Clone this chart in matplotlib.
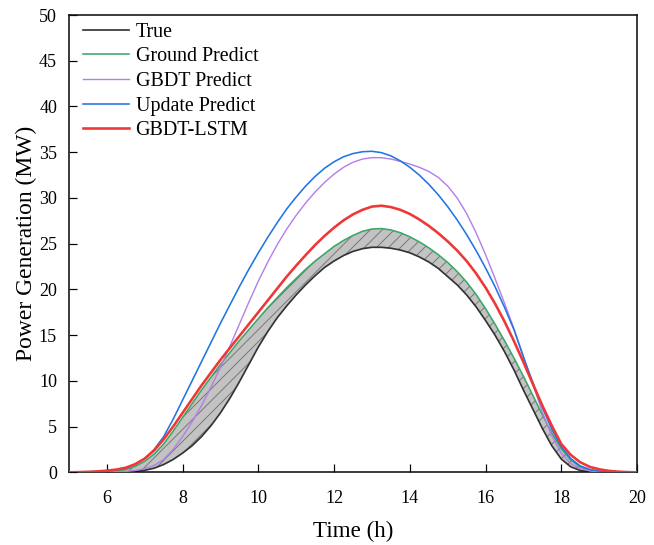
import numpy as np
import matplotlib
matplotlib.use("Agg")
import matplotlib.pyplot as plt

# ---------------- data ----------------
hours = [5.00, 5.25, 5.50, 5.75, 6.00, 6.25, 6.50, 6.75, 7.00, 7.25, 7.50, 7.75,
         8.00, 8.25, 8.50, 8.75, 9.00, 9.25, 9.50, 9.75, 10.00, 10.25, 10.50, 10.75,
         11.00, 11.25, 11.50, 11.75, 12.00, 12.25, 12.50, 12.75, 13.00, 13.25, 13.50, 13.75,
         14.00, 14.25, 14.50, 14.75, 15.00, 15.25, 15.50, 15.75, 16.00, 16.25, 16.50, 16.75,
         17.00, 17.25, 17.50, 17.75, 18.00, 18.25, 18.50, 18.75, 19.00, 19.25, 19.50, 19.75, 20.00]

true_vals = [0, 0, 0, 0, 0, 0, 0.02, 0.08, 0.22, 0.45, 0.85, 1.4,
             2.1, 2.9, 3.9, 5.1, 6.5, 8.1, 9.9, 11.8, 13.7, 15.4, 16.9, 18.2,
             19.4, 20.5, 21.5, 22.4, 23.1, 23.7, 24.15, 24.45, 24.6, 24.6, 24.5, 24.3,
             24.0, 23.55, 23.0, 22.3, 21.4, 20.5, 19.4, 18.1, 16.6, 15.0, 13.2, 11.2,
             9.0, 6.9, 4.8, 2.9, 1.45, 0.6, 0.2, 0.05, 0, 0, 0, 0, 0]

ground_vals = [0, 0, 0, 0.02, 0.05, 0.12, 0.3, 0.65, 1.2, 2.0, 3.1, 4.5,
               6.0, 7.5, 9.0, 10.4, 11.8, 13.1, 14.4, 15.6, 16.8, 18.0, 19.1, 20.2,
               21.2, 22.2, 23.1, 23.9, 24.7, 25.35, 25.9, 26.35, 26.6, 26.65, 26.5, 26.2,
               25.75, 25.2, 24.55, 23.8, 22.95, 21.95, 20.8, 19.45, 17.9, 16.2, 14.4, 12.5,
               10.5, 8.4, 6.3, 4.3, 2.6, 1.35, 0.6, 0.22, 0.07, 0.02, 0, 0, 0]

gbdt_vals = [0, 0, 0, 0, 0.02, 0.04, 0.09, 0.2, 0.4, 0.75, 1.4, 2.5,
             3.9, 5.5, 7.3, 9.3, 11.5, 13.8, 16.2, 18.6, 20.9, 23.0, 24.9, 26.6,
             28.1, 29.45, 30.65, 31.7, 32.6, 33.35, 33.9, 34.25, 34.4, 34.4, 34.25, 34.0,
             33.7, 33.35, 32.9, 32.25, 31.3, 30.0, 28.3, 26.2, 23.8, 21.2, 18.5, 15.7,
             12.7, 9.6, 6.6, 4.0, 2.1, 0.95, 0.4, 0.16, 0.06, 0.02, 0, 0, 0]

update_vals = [0, 0.01, 0.03, 0.07, 0.13, 0.25, 0.45, 0.85, 1.5, 2.5, 3.9, 5.8,
               7.9, 10.0, 12.1, 14.2, 16.3, 18.3, 20.3, 22.2, 24.0, 25.7, 27.3, 28.8,
               30.1, 31.3, 32.35, 33.25, 33.95, 34.5, 34.85, 35.05, 35.1, 34.95, 34.6, 34.05,
               33.35, 32.5, 31.5, 30.35, 29.05, 27.6, 26.0, 24.25, 22.35, 20.3, 18.05, 15.6,
               12.6, 9.8, 7.1, 4.7, 2.8, 1.5, 0.7, 0.32, 0.13, 0.05, 0.02, 0, 0]

lstm_vals = [0, 0.02, 0.05, 0.1, 0.18, 0.3, 0.5, 0.9, 1.5, 2.4, 3.6, 5.0,
             6.5, 8.0, 9.5, 10.9, 12.3, 13.6, 14.9, 16.2, 17.5, 18.8, 20.1, 21.4,
             22.6, 23.75, 24.85, 25.85, 26.75, 27.55, 28.2, 28.7, 29.05, 29.15, 29.0, 28.7,
             28.25, 27.65, 26.95, 26.15, 25.25, 24.25, 23.1, 21.75, 20.2, 18.45, 16.5, 14.35,
             12.05, 9.65, 7.3, 5.1, 3.1, 1.9, 1.1, 0.6, 0.33, 0.16, 0.07, 0.02, 0]

labels = ["True", "Ground Predict", "GBDT Predict", "Update Predict", "GBDT-LSTM"]
xticks = [6, 8, 10, 12, 14, 16, 18, 20]
yticks = [0, 5, 10, 15, 20, 25, 30, 35, 40, 45, 50]

# ---------------- style ----------------
plt.rcParams['font.family'] = ['Liberation Serif', 'DejaVu Serif']
plt.rcParams['hatch.linewidth'] = 1.0
plt.rcParams['hatch.color'] = '#7a7a7a'

DPI = 72
fig = plt.figure(figsize=(654 / DPI, 545 / DPI), dpi=DPI)
ax = fig.add_axes([69 / 654, (545 - 472.3) / 545, 568 / 654, 457.3 / 545])

x = np.array(hours)
ax.fill_between(x, true_vals, ground_vals, facecolor='#c3c3c3',
                edgecolor='#7a7a7a', hatch='//', linewidth=0, zorder=1)

ax.plot(x, true_vals, color='#333333', lw=1.7, label=labels[0], zorder=2)
ax.plot(x, ground_vals, color='#3aa866', lw=1.6, label=labels[1], zorder=3)
ax.plot(x, gbdt_vals, color='#b47ee9', lw=1.4, label=labels[2], zorder=4)
ax.plot(x, update_vals, color='#2275e4', lw=1.6, label=labels[3], zorder=5)
ax.plot(x, lstm_vals, color='#f03737', lw=2.6, label=labels[4], zorder=6)

ax.set_xlim(5, 20)
ax.set_ylim(0, 50)
ax.set_xticks(xticks)
ax.set_yticks(yticks)
ax.tick_params(axis='x', direction='in', length=8, width=1.2,
               labelsize=18, pad=18, top=False)
ax.tick_params(axis='y', direction='in', length=8, width=1.2,
               labelsize=18, pad=12, right=False)
for s in ax.spines.values():
    s.set_linewidth(1.6)
    s.set_color('#111111')

ax.set_xlabel("Time (h)", fontsize=23, labelpad=14)
ax.set_ylabel("Power Generation (MW)", fontsize=23.5, labelpad=2)

leg = ax.legend(loc='upper left', bbox_to_anchor=(0.0246, 0.983), frameon=False,
                fontsize=20, handlelength=2.3, handletextpad=0.33,
                labelspacing=0.28, borderpad=0, borderaxespad=0)

fig.savefig("out.png", dpi=DPI)
